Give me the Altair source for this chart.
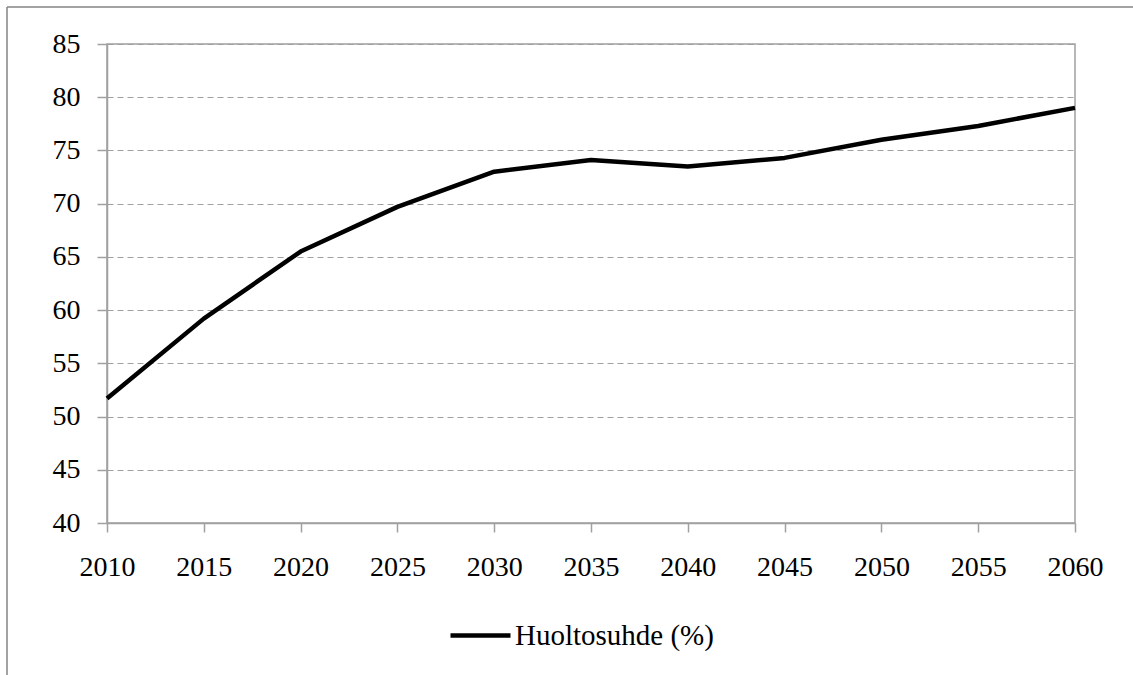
import altair as alt
import pandas as pd

years = [2010, 2015, 2020, 2025, 2030, 2035, 2040, 2045, 2050, 2055, 2060]
values = [51.7, 59.2, 65.5, 69.7, 73.0, 74.1, 73.5, 74.3, 76.0, 77.3, 79.0]
series_name = "Huoltosuhde (%)"
y_ticks = [40, 45, 50, 55, 60, 65, 70, 75, 80, 85]
x_ticks = years

df = pd.DataFrame({"year": years, "value": values, "series": [series_name] * len(years)})

FONT = "Liberation Serif"
GRAY = "#a0a0a0"
one = pd.DataFrame({"a": [0]})

frame_left = alt.Chart(one).mark_rule(stroke="#858585", strokeWidth=1.5).encode(
    x=alt.value(-100), y=alt.value(-37), y2=alt.value(720)
)
frame_top = alt.Chart(one).mark_rule(stroke="#858585", strokeWidth=1.5).encode(
    x=alt.value(-100), x2=alt.value(1100), y=alt.value(-37)
)

line = alt.Chart(df).mark_line(strokeWidth=4.5, interpolate="linear", strokeJoin="round").encode(
    x=alt.X(
        "year:Q",
        scale=alt.Scale(domain=[2010, 2060], nice=False),
        axis=alt.Axis(values=x_ticks, format="d", grid=False, title="",
                      tickSize=9, labelPadding=21, labelFlush=False),
    ),
    y=alt.Y(
        "value:Q",
        scale=alt.Scale(domain=[40, 85], nice=False, zero=False),
        axis=alt.Axis(values=y_ticks, grid=True, title="", tickSize=10,
                      labelPadding=17, gridDash=[6, 4]),
    ),
    color=alt.Color(
        "series:N",
        scale=alt.Scale(range=["black"]),
        legend=alt.Legend(
            title=None, orient="none", legendX=341, legendY=559,
            symbolType="stroke", symbolSize=3600, symbolStrokeWidth=4.5,
            labelFont=FONT, labelFontSize=29, labelColor="black",
            labelOffset=2, padding=0, labelLimit=0,
        ),
    ),
)

chart = alt.layer(frame_left, frame_top, line).properties(
    width=968, height=479,
    autosize=alt.AutoSizeParams(type="none"),
    padding={"left": 107, "top": 44, "right": 58, "bottom": 152},
    background="white",
).configure_view(
    stroke=GRAY, strokeWidth=1.5
).configure_axis(
    domainColor=GRAY, tickColor=GRAY, gridColor=GRAY, domainWidth=1.5,
    tickWidth=1.5, gridWidth=1.2,
    labelFont=FONT, labelFontSize=28, labelColor="black",
)

chart.save("out.html", embed_options={"renderer": "svg", "actions": False})
